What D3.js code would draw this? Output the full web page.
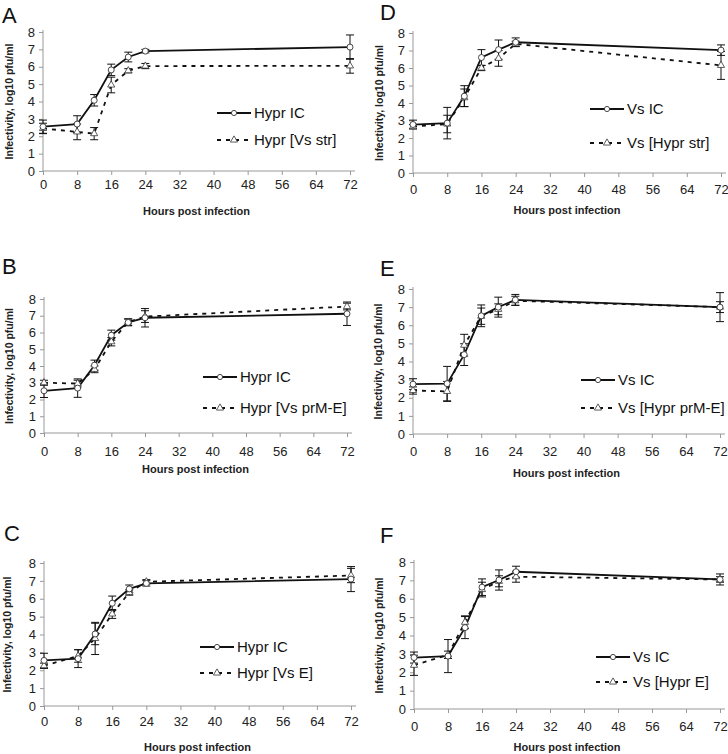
<!DOCTYPE html>
<html>
<head>
<meta charset="utf-8">
<script src="https://cdn.jsdelivr.net/npm/d3@7"></script>
<style>
  body { margin: 0; background: #fff; }
  svg { display: block; font-family: "Liberation Sans", Arial, sans-serif; }
</style>
</head>
<body>
<div id="chart"></div>
<script>
// ---- data ----
var hours = [0, 8, 12, 16, 20, 24, 72];
var xTicks = [0, 8, 16, 24, 32, 40, 48, 56, 64, 72];
var yTicks = [0, 1, 2, 3, 4, 5, 6, 7, 8];

// A
var hyprIC_A = [2.55, 2.7, 4.07, 5.82, 6.56, 6.9, 7.13];
var hyprIC_A_err = [0.38, 0.48, 0.33, 0.33, 0.28, 0.1, 0.7];
var hyprVsStr_A = [2.45, 2.25, 2.15, 4.95, 5.77, 6.04, 6.05];
var hyprVsStr_A_err = [0.3, 0.45, 0.35, 0.45, 0.12, 0.15, 0.42];
// B
var hyprIC_B = [2.52, 2.68, 4.05, 5.84, 6.6, 6.88, 7.12];
var hyprIC_B_err = [0.4, 0.55, 0.3, 0.3, 0.2, 0.55, 0.7];
var hyprVsPrME_B = [3.0, 2.95, 3.8, 5.45, 6.62, 6.95, 7.55];
var hyprVsPrME_B_err = [0.15, 0.2, 0.2, 0.25, 0.2, 0.35, 0.2];
// C
var hyprIC_C = [2.55, 2.65, 4.03, 5.75, 6.55, 6.86, 7.1];
var hyprIC_C_err = [0.4, 0.5, 0.6, 0.4, 0.22, 0.15, 0.7];
var hyprVsE_C = [2.25, 2.8, 3.78, 5.15, 6.35, 6.95, 7.3];
var hyprVsE_C_err = [0.15, 0.35, 0.9, 0.25, 0.15, 0.12, 0.4];
// D
var vsIC_D = [2.77, 2.85, 4.39, 6.6, 7.05, 7.47, 7.02];
var vsIC_D_err = [0.25, 0.9, 0.6, 0.45, 0.55, 0.25, 0.3];
var vsHyprStr_D = [2.65, 2.8, 4.3, 6.0, 6.55, 7.38, 6.15];
var vsHyprStr_D_err = [0.12, 0.5, 0.5, 0.15, 0.45, 0.15, 0.8];
// E
var vsIC_E = [2.75, 2.78, 4.38, 6.52, 7.0, 7.4, 7.0];
var vsIC_E_err = [0.3, 0.95, 0.6, 0.6, 0.55, 0.3, 0.8];
var vsHyprPrME_E = [2.4, 2.35, 4.9, 6.5, 6.88, 7.35, 7.0];
var vsHyprPrME_E_err = [0.2, 0.55, 0.6, 0.45, 0.3, 0.25, 0.3];
// F
var vsIC_F = [2.8, 2.88, 4.43, 6.63, 7.02, 7.47, 7.05];
var vsIC_F_err = [0.3, 0.9, 0.6, 0.45, 0.55, 0.3, 0.3];
var vsHyprE_F = [2.38, 2.95, 4.72, 6.5, 6.95, 7.2, 7.05];
var vsHyprE_F_err = [0.55, 0.2, 0.35, 0.4, 0.3, 0.3, 0.15];

// ---- panel layout (pixel boxes of each plot area) ----
var panels = [
	{ letter: "A", lx: 2, ly: 23, x0: 43, x1: 350, y8: 32, y0: 171, labY: 189, titY: 215, yTitX: 9,
	  legX: 217, legY: [113, 140], names: ["Hypr IC", "Hypr [Vs str]"],
	  solid: hyprIC_A, solidErr: hyprIC_A_err, dash: hyprVsStr_A, dashErr: hyprVsStr_A_err },
	{ letter: "B", lx: 2, ly: 274, x0: 44, x1: 347, y8: 299, y0: 433, labY: 456, titY: 473, yTitX: 9,
	  legX: 203, legY: [377, 408], names: ["Hypr IC", "Hypr [Vs prM-E]"],
	  solid: hyprIC_B, solidErr: hyprIC_B_err, dash: hyprVsPrME_B, dashErr: hyprVsPrME_B_err },
	{ letter: "C", lx: 4, ly: 541, x0: 44, x1: 351, y8: 563, y0: 706, labY: 726, titY: 751, yTitX: 7,
	  legX: 200, legY: [647, 673], names: ["Hypr IC", "Hypr [Vs E]"],
	  solid: hyprIC_C, solidErr: hyprIC_C_err, dash: hyprVsE_C, dashErr: hyprVsE_C_err },
	{ letter: "D", lx: 380, ly: 20, x0: 413, x1: 721, y8: 33, y0: 173, labY: 194, titY: 214, yTitX: 379,
	  legX: 590, legY: [109, 143], names: ["Vs IC", "Vs [Hypr str]"],
	  solid: vsIC_D, solidErr: vsIC_D_err, dash: vsHyprStr_D, dashErr: vsHyprStr_D_err },
	{ letter: "E", lx: 380, ly: 276, x0: 413, x1: 720, y8: 289, y0: 434, labY: 456, titY: 477, yTitX: 378,
	  legX: 581, legY: [380, 408], names: ["Vs IC", "Vs [Hypr prM-E]"],
	  solid: vsIC_E, solidErr: vsIC_E_err, dash: vsHyprPrME_E, dashErr: vsHyprPrME_E_err },
	{ letter: "F", lx: 380, ly: 543, x0: 414, x1: 720, y8: 562, y0: 709, labY: 731, titY: 751, yTitX: 379,
	  legX: 596, legY: [657, 682], names: ["Vs IC", "Vs [Hypr E]"],
	  solid: vsIC_F, solidErr: vsIC_F_err, dash: vsHyprE_F, dashErr: vsHyprE_F_err }
];

var svg = d3.select("#chart").append("svg")
	.attr("width", 728)
	.attr("height", 754);

var axisColor = "#999";
var triangle = d3.symbol().type(d3.symbolTriangle).size(22);

panels.forEach(function(p){ drawPanel(p); });

function drawPanel(p){
	var g = svg.append("g");
	var x = d3.scaleLinear().domain([0, 72]).range([p.x0, p.x1]);
	var y = d3.scaleLinear().domain([0, 8]).range([p.y0, p.y8]);

	// panel letter
	g.append("text").attr("x", p.lx).attr("y", p.ly)
		.attr("font-size", "22px").attr("fill", "#111").text(p.letter);

	// axes (thin grey lines, dark labels)
	var xAxis = g.append("g").attr("transform", "translate(0," + p.y0 + ")")
		.call(d3.axisBottom(x).tickValues(xTicks).tickSize(4));
	xAxis.select(".domain").attr("d", "M" + p.x0 + ",0H" + (p.x1 + 5));
	var yAxis = g.append("g").attr("transform", "translate(" + p.x0 + ",0)")
		.call(d3.axisLeft(y).tickValues(yTicks).tickSize(4).tickPadding(4));
	yAxis.select(".domain").attr("d", "M0," + p.y0 + "V" + (p.y8 - 2));
	[xAxis, yAxis].forEach(function(a){
		a.selectAll(".domain, line").attr("stroke", axisColor).attr("stroke-width", 1);
		a.selectAll("text").attr("font-size", "13px").attr("fill", "#222")
			.attr("font-family", "'Liberation Sans', Arial, sans-serif");
	});
	// x tick labels sit a bit below the axis, baseline at labY
	xAxis.selectAll("text").attr("dy", null).attr("y", p.labY - p.y0);

	// axis titles
	g.append("text").attr("x", (p.x0 + p.x1) / 2).attr("y", p.titY)
		.attr("text-anchor", "middle").attr("font-size", "11px").attr("font-weight", "bold")
		.attr("fill", "#222").text("Hours post infection");
	g.append("text")
		.attr("transform", "translate(" + p.yTitX + "," + ((p.y0 + p.y8) / 2) + ") rotate(-90)")
		.attr("text-anchor", "middle").attr("dy", "0.35em")
		.attr("font-size", "10.5px").attr("font-weight", "bold").attr("fill", "#222")
		.text("Infectivity, log10 pfu/ml");

	var solidData = hours.map(function(h, i){ return { h: h, v: p.solid[i], e: p.solidErr[i] }; });
	var dashData = hours.map(function(h, i){ return { h: h, v: p.dash[i], e: p.dashErr[i] }; });

	var line = d3.line()
		.x(function(d){ return x(d.h); })
		.y(function(d){ return y(d.v); });

	// error bars for both series
	[dashData, solidData].forEach(function(data){
		var eb = g.append("g").attr("stroke", "#111").attr("stroke-width", 1);
		data.forEach(function(d){
			var cx = x(d.h);
			eb.append("line").attr("x1", cx).attr("x2", cx).attr("y1", y(d.v - d.e)).attr("y2", y(d.v + d.e));
			eb.append("line").attr("x1", cx - 4).attr("x2", cx + 4).attr("y1", y(d.v - d.e)).attr("y2", y(d.v - d.e));
			eb.append("line").attr("x1", cx - 4).attr("x2", cx + 4).attr("y1", y(d.v + d.e)).attr("y2", y(d.v + d.e));
		});
	});

	// dashed series with open triangles
	g.append("path").datum(dashData).attr("d", line)
		.attr("fill", "none").attr("stroke", "#111").attr("stroke-width", 1.8)
		.attr("stroke-dasharray", "4,5");
	// solid series with open circles
	g.append("path").datum(solidData).attr("d", line)
		.attr("fill", "none").attr("stroke", "#111").attr("stroke-width", 1.8);

	g.selectAll(".tri").data(dashData).enter().append("path")
		.attr("d", triangle)
		.attr("transform", function(d){ return "translate(" + x(d.h) + "," + y(d.v) + ")"; })
		.attr("fill", "#fff").attr("stroke", "#333").attr("stroke-width", 0.8);
	g.selectAll(".circ").data(solidData).enter().append("circle")
		.attr("cx", function(d){ return x(d.h); })
		.attr("cy", function(d){ return y(d.v); })
		.attr("r", 3).attr("fill", "#fff").attr("stroke", "#333").attr("stroke-width", 0.9);

	// legend
	var lw = 34;
	g.append("line").attr("x1", p.legX).attr("x2", p.legX + lw).attr("y1", p.legY[0]).attr("y2", p.legY[0])
		.attr("stroke", "#111").attr("stroke-width", 1.8);
	g.append("circle").attr("cx", p.legX + lw / 2).attr("cy", p.legY[0]).attr("r", 2.6)
		.attr("fill", "#fff").attr("stroke", "#333").attr("stroke-width", 0.9);
	g.append("line").attr("x1", p.legX).attr("x2", p.legX + lw).attr("y1", p.legY[1]).attr("y2", p.legY[1])
		.attr("stroke", "#111").attr("stroke-width", 1.8).attr("stroke-dasharray", "4,5");
	g.append("path").attr("d", triangle)
		.attr("transform", "translate(" + (p.legX + lw / 2) + "," + p.legY[1] + ")")
		.attr("fill", "#fff").attr("stroke", "#333").attr("stroke-width", 0.8);
	p.names.forEach(function(n, i){
		g.append("text").attr("x", p.legX + lw + 3).attr("y", p.legY[i]).attr("dy", "0.35em")
			.attr("font-size", "15px").attr("fill", "#111").text(n);
	});
}
</script>
</body>
</html>
